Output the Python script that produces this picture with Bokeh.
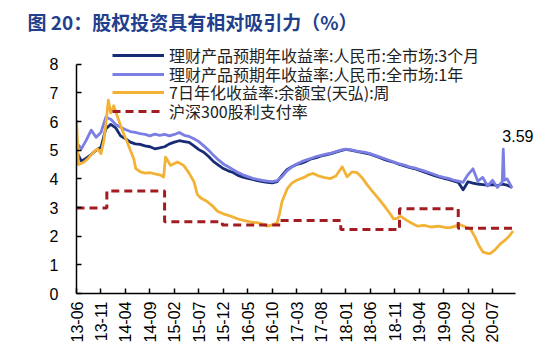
from math import pi
from bokeh.plotting import figure
from bokeh.models import Range1d, FixedTicker, Legend, LegendItem, Label
from bokeh.embed import file_html
from bokeh.resources import INLINE

# ---------------- data (month index: 0 = 2013-06) ----------------
tick_positions = [0, 5, 10, 15, 20, 25, 30, 35, 40, 45, 50, 55, 60, 65, 70, 75, 80, 85]
tick_labels = ["13-06", "13-11", "14-04", "14-09", "15-02", "15-07", "15-12", "16-05",
               "16-10", "17-03", "17-08", "18-01", "18-06", "18-11", "19-04", "19-09",
               "20-02", "20-07"]

months_3m = list(range(90))
yield_3m = [4.95, 4.62, 4.72, 4.85, 5.0, 5.1, 5.75, 5.9, 5.78, 5.5,
            5.4, 5.28, 5.22, 5.2, 5.15, 5.12, 5.05, 5.08, 5.12, 5.22,
            5.28, 5.33, 5.3, 5.27, 5.15, 5.02, 4.93, 4.78, 4.6, 4.48,
            4.36, 4.28, 4.22, 4.12, 4.06, 4.02, 3.98, 3.94, 3.9, 3.88,
            3.86, 3.9, 4.12, 4.32, 4.42, 4.5, 4.55, 4.62, 4.7, 4.74,
            4.8, 4.84, 4.88, 4.93, 4.98, 5.03, 5.0, 4.97, 4.93, 4.9,
            4.86, 4.8, 4.74, 4.67, 4.62, 4.57, 4.5, 4.45, 4.4, 4.36,
            4.3, 4.24, 4.18, 4.12, 4.07, 4.02, 3.98, 3.93, 3.88, 3.62,
            3.9, 3.85, 3.82, 3.8, 3.78, 3.8, 3.76, 3.82, 3.78, 3.7]

months_1y = list(range(88)) + [87.2, 87.4, 88, 89]
yield_1y = [5.25, 5.05, 5.35, 5.7, 5.45, 5.62, 6.15, 6.08, 5.9, 5.8,
            5.72, 5.65, 5.62, 5.58, 5.55, 5.5, 5.56, 5.52, 5.55, 5.5,
            5.55, 5.62, 5.52, 5.48, 5.4, 5.3, 5.15, 5.0, 4.82, 4.66,
            4.52, 4.42, 4.32, 4.22, 4.14, 4.08, 4.02, 3.98, 3.95, 3.92,
            3.9, 3.94, 4.08, 4.28, 4.42, 4.52, 4.6, 4.66, 4.72, 4.78,
            4.82, 4.86, 4.9, 4.95, 5.0, 5.04, 5.02, 4.98, 4.95, 4.92,
            4.88, 4.82, 4.76, 4.7, 4.64, 4.58, 4.52, 4.48, 4.42, 4.38,
            4.33, 4.28, 4.22, 4.16, 4.1, 4.05, 4.02, 3.96, 3.92, 3.88,
            4.15, 4.35, 3.92, 4.05, 3.75, 3.95, 3.7, 3.9,
            5.04, 3.95, 4.0, 3.68]

months_yeb = [0, 0.4, 1.5, 2.3, 2.9, 3.6, 4.3, 5.0, 5.6, 6.0,
              6.5, 7.0, 7.6, 8.3, 9.0, 9.7, 10.4, 11.0, 11.7, 12.1,
              13.1, 14.0, 15.0, 16.0, 17.2, 17.8, 18.2, 19.2, 20.6, 21.9,
              23.0, 24.0, 24.7, 25.4, 26.7, 27.8, 28.8, 30.0, 31.5, 33.0,
              34.1, 35.5, 36.9, 38.0, 39.0, 40.2, 41.0, 41.5, 42.0, 43.1,
              44.0, 45.1, 46.5, 47.5, 48.4, 49.5, 50.5, 51.9, 53.0, 54.3,
              55.3, 56.3, 57.3, 58.3, 59.4, 60.3, 61.5, 62.7, 63.8, 64.8,
              65.5, 66.2, 67.5, 68.5, 69.7, 71.0, 72.5, 74.0, 75.5, 76.4,
              77.4, 78.4, 79.5, 80.5, 81.5, 82.3, 83.1, 84.0, 84.5, 85.5,
              86.6, 87.5, 88.4, 89.2]
yield_yeb = [6.05, 4.5, 4.58, 4.7, 4.82, 4.95, 5.05, 4.88, 5.35, 5.9,
             6.75, 6.3, 6.55, 6.2, 5.86, 5.55, 5.27, 5.0, 4.7, 4.36,
             4.24, 4.2, 4.22, 4.17, 4.13, 4.06, 4.76, 4.47, 4.59, 4.47,
             4.2, 3.9, 3.45, 3.33, 3.21, 3.05, 2.87, 2.78, 2.7, 2.6,
             2.55, 2.5, 2.47, 2.42, 2.35, 2.4, 2.47, 2.8, 3.21, 3.67,
             3.85, 3.96, 4.05, 4.15, 4.19, 4.1, 4.05, 4.01, 4.1, 4.42,
             4.07, 4.24, 4.22, 4.05, 3.79, 3.6, 3.35, 3.1, 2.85, 2.6,
             2.62, 2.7, 2.55, 2.45, 2.35, 2.38, 2.32, 2.35, 2.3, 2.3,
             2.35, 2.4, 2.32, 2.25, 1.95, 1.65, 1.44, 1.4, 1.39, 1.52,
             1.73, 1.85, 2.0, 2.18]

months_div = [0, 6.2, 18.0, 29.8, 41.7, 54.0, 66.0, 78.0, 89.2]
payout_div = [2.98, 3.58, 2.50, 2.39, 2.55, 2.23, 2.96, 2.28, 2.28]

labels = ["理财产品预期年收益率:人民币:全市场:3个月",
          "理财产品预期年收益率:人民币:全市场:1年",
          "7日年化收益率:余额宝(天弘):周",
          "沪深300股利支付率"]
title_text = "图 20：股权投资具有相对吸引力（%）"
note_text = "3.59"
note_x, note_y = 87.0, 5.48

# ---------------- figure ----------------
NAVY = "#172C74"
PERI = "#7B7FE4"
GOLD = "#F2B236"
RED = "#A31C22"

X_END = 89.7
Y_END = 8
PX_X = 439 / X_END      # pixels per month
PX_Y = 232 / Y_END      # pixels per unit
FRAME_TOP = 36

p = figure(width=554, height=351, output_backend="svg", toolbar_location=None,
           x_range=Range1d(0, (554 - 76) / PX_X),
           y_range=Range1d(0, (351 - 58 - FRAME_TOP) / PX_Y),
           min_border_left=76, min_border_right=0, min_border_top=FRAME_TOP,
           min_border_bottom=58)
p.outline_line_color = None
p.grid.visible = False
p.background_fill_color = "white"
p.border_fill_color = "white"

p.title.text = title_text
p.title.align = "left"
p.title.offset = -49
p.title.standoff = 10
p.title.text_font = "Noto Sans CJK SC"
p.title.text_font_size = "19px"
p.title.text_font_style = "bold"
p.title.text_color = "#213F8C"

r1 = p.line(months_3m, yield_3m, line_color=NAVY, line_width=2.8, line_join="round")
r2 = p.line(months_1y, yield_1y, line_color=PERI, line_width=2.8, line_join="round")
r3 = p.line(months_yeb, yield_yeb, line_color=GOLD, line_width=2.8, line_join="round")
r4 = p.step(months_div, payout_div, mode="after", line_color=RED, line_width=3,
            line_dash="8 5")

for ax in (p.xaxis[0], p.yaxis[0]):
    ax.axis_line_color = "black"
    ax.axis_line_width = 1.5
    ax.major_tick_line_color = "black"
    ax.major_tick_line_width = 1.5
    ax.major_tick_in = 5
    ax.major_tick_out = 0
    ax.minor_tick_line_color = None
    ax.major_label_text_font = "Liberation Sans"
    ax.major_label_text_font_size = "16px"
    ax.major_label_text_color = "black"

p.yaxis.ticker = FixedTicker(ticks=[0, 1, 2, 3, 4, 5, 6, 7, 8])
p.yaxis.bounds = (0, Y_END)
p.yaxis.major_label_standoff = 18
p.xaxis.ticker = FixedTicker(ticks=tick_positions)
p.xaxis.bounds = (0, X_END)
p.xaxis.major_label_overrides = {pos: lab for pos, lab in zip(tick_positions, tick_labels)}
p.xaxis.major_label_orientation = pi / 2
p.xaxis.major_label_standoff = 8

# one single-item legend per row, so the rows can sit as tightly as in the reference
legend_rows_y = [226, 207.5, 189, 170.5]   # legend bottoms, px above the frame bottom
for lab, rend, ly in zip(labels, [r1, r2, r3, r4], legend_rows_y):
    lg = Legend(items=[LegendItem(label=lab, renderers=[rend])], location=(36, ly))
    lg.label_text_font = "Noto Sans CJK SC"
    lg.label_text_font_size = "16px"
    lg.label_text_color = "#222222"
    lg.glyph_width = 52
    lg.glyph_height = 14
    lg.label_height = 14
    lg.label_standoff = 5
    lg.spacing = 0
    lg.padding = 0
    lg.margin = 0
    lg.border_line_color = None
    lg.background_fill_alpha = 0
    p.add_layout(lg)

p.add_layout(Label(x=note_x, y=note_y, text=note_text, text_font="Liberation Sans",
                   text_font_size="16px", text_color="black", text_baseline="middle"))

open("out.html", "w").write(file_html(p, INLINE))
